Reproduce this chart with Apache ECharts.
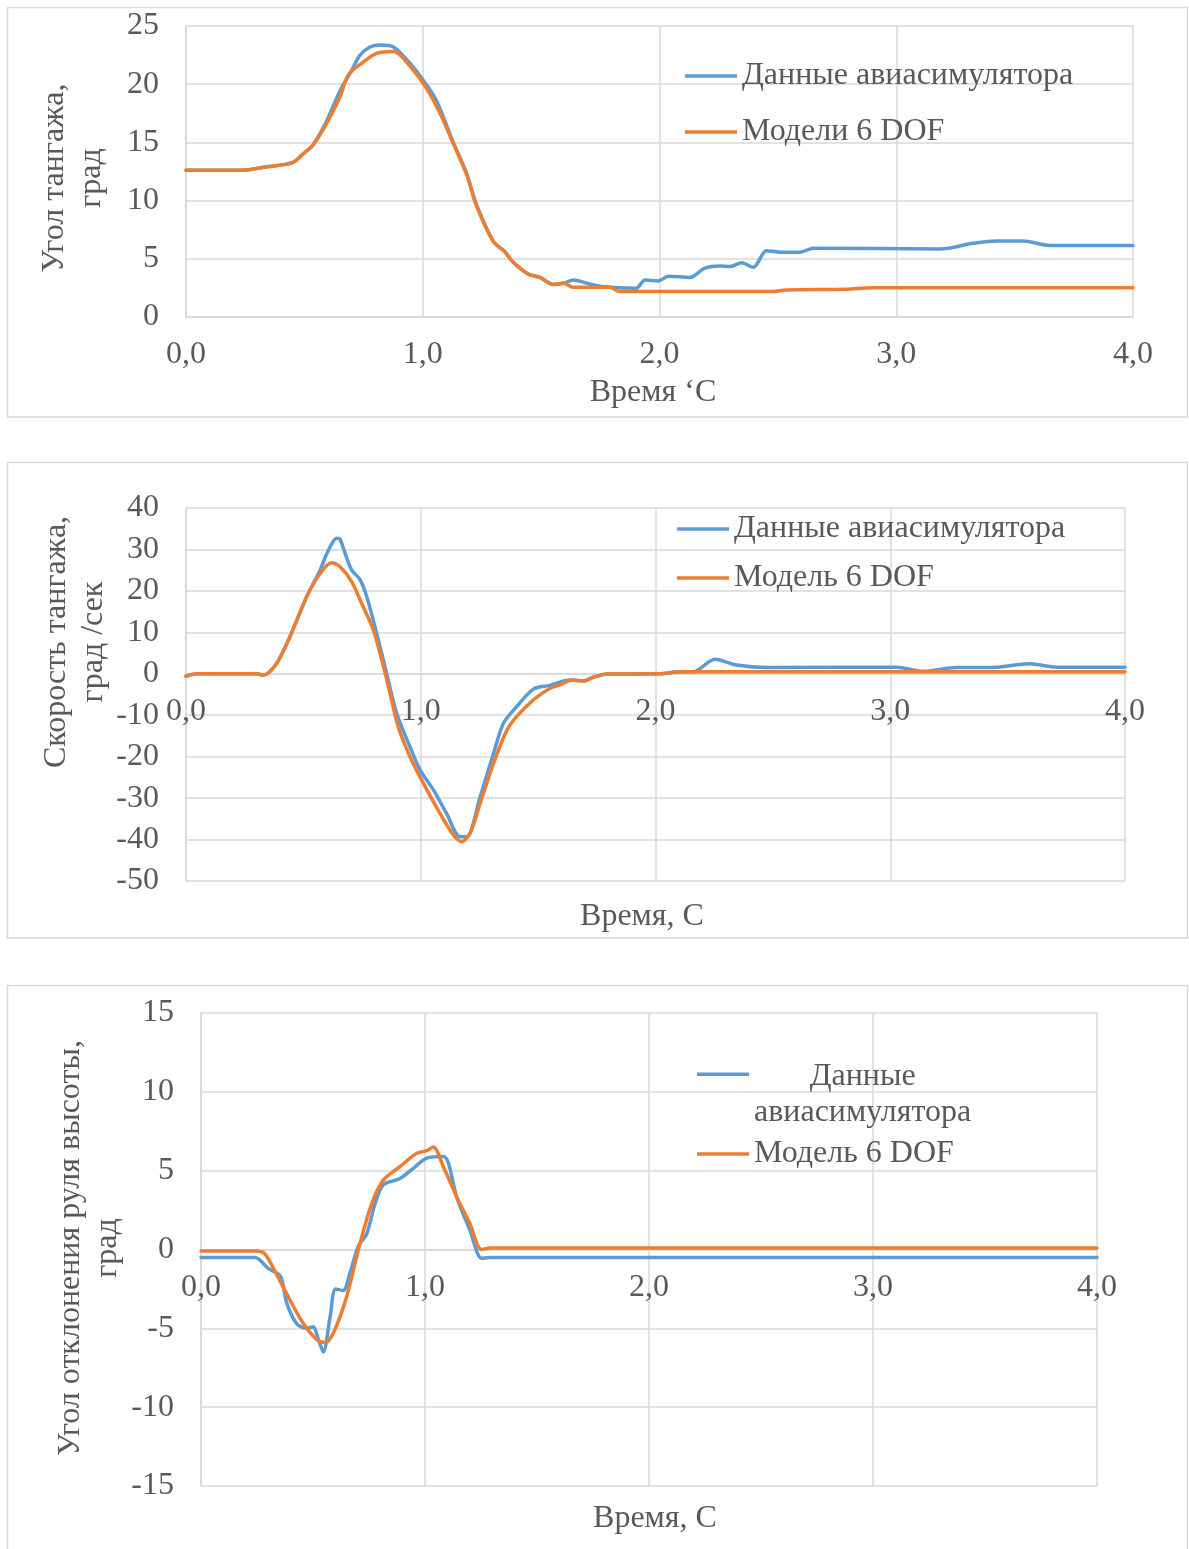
<!DOCTYPE html>
<html>
<head>
<meta charset="utf-8">
<script src="https://cdn.jsdelivr.net/npm/echarts@6/dist/echarts.min.js"></script>
<style>
html,body{margin:0;padding:0;background:#fff;}
#c{width:1189px;height:1549px;}
</style>
</head>
<body>
<div id="c"></div>
<script>
// ---- Data (time in s, value) ----
const xTicks = [0, 1, 2, 3, 4];

const seriesNames = ['Данные авиасимулятора', 'Модели 6 DOF', 'Модель 6 DOF'];

const pitchSim = [
[0,12.6],[0.235,12.6],[0.34,12.9],[0.45,13.26],[0.494,14.0],[0.537,14.8],[0.593,16.8],[0.65,19.4],[0.70,21.2],[0.735,22.5],[0.777,23.2],[0.82,23.37],[0.876,23.2],[0.946,21.8],[1.017,19.9],[1.06,18.5],[1.129,15.0],[1.186,12.3],[1.228,9.6],[1.298,6.5],[1.347,5.6],[1.38,4.75],[1.445,3.7],[1.495,3.4],[1.55,2.8],[1.594,2.9],[1.636,3.18],[1.72,2.75],[1.79,2.55],[1.9,2.46],[1.94,3.18],[1.995,3.1],[2.037,3.5],[2.129,3.4],[2.19,4.18],[2.256,4.38],[2.298,4.33],[2.347,4.67],[2.396,4.27],[2.452,5.7],[2.509,5.57],[2.593,5.57],[2.65,5.9],[3.185,5.85],[3.325,6.33],[3.424,6.53],[3.536,6.53],[3.649,6.15],[4.0,6.15]
];
const pitchModel = [
[0,12.6],[0.235,12.6],[0.34,12.9],[0.45,13.26],[0.494,14.0],[0.537,14.8],[0.593,16.6],[0.65,18.9],[0.686,20.8],[0.749,21.9],[0.805,22.65],[0.876,22.8],[0.96,21.2],[1.017,19.6],[1.073,17.5],[1.129,14.9],[1.186,12.2],[1.228,9.5],[1.298,6.5],[1.347,5.6],[1.38,4.75],[1.445,3.7],[1.495,3.4],[1.55,2.8],[1.594,2.9],[1.636,2.55],[1.79,2.55],[1.833,2.18],[2.48,2.18],[2.533,2.32],[2.787,2.38],[2.9,2.52],[4.0,2.52]
];

const rateSim = [
[0,-0.6],[0.045,0],[0.3,0],[0.329,-0.3],[0.386,2.5],[0.443,9],[0.514,18.6],[0.571,25],[0.6,29],[0.642,32.7],[0.656,32.5],[0.678,29],[0.706,25],[0.741,22.8],[0.77,18.6],[0.812,9.8],[0.855,0],[0.897,-9.5],[0.954,-17.6],[0.997,-23.2],[1.054,-28],[1.11,-33.7],[1.167,-39.3],[1.196,-39.3],[1.253,-29.7],[1.31,-19.2],[1.352,-12],[1.409,-7.9],[1.48,-3.7],[1.551,-2.8],[1.636,-1.5],[1.693,-1.7],[1.735,-0.85],[1.792,-0.05],[2.019,0],[2.104,0.5],[2.161,0.5],[2.253,3.5],[2.346,2.1],[2.473,1.5],[3.027,1.6],[3.14,0.6],[3.282,1.5],[3.425,1.5],[3.595,2.4],[3.709,1.6],[4.0,1.6]
];
const rateModel = [
[0,-0.6],[0.045,0],[0.3,0],[0.329,-0.3],[0.386,2.5],[0.443,9],[0.514,18.6],[0.571,24.2],[0.62,26.8],[0.656,25.8],[0.706,22.2],[0.748,17],[0.798,10.6],[0.834,3.3],[0.869,-4.7],[0.904,-12.8],[0.954,-20],[1.011,-26.4],[1.082,-33.7],[1.139,-38.9],[1.175,-40.5],[1.21,-38.5],[1.253,-31.3],[1.31,-21.6],[1.367,-13.6],[1.409,-10.3],[1.48,-6.3],[1.551,-3.5],[1.593,-2.7],[1.643,-1.5],[1.693,-1.7],[1.735,-0.85],[1.792,-0.05],[2.019,0],[2.104,0.5],[4.0,0.5]
];

const elevSim = [
[0,-0.5],[0.241,-0.5],[0.3,-1.2],[0.355,-1.7],[0.383,-3.4],[0.427,-4.7],[0.472,-5.0],[0.501,-4.9],[0.524,-5.7],[0.546,-6.5],[0.576,-4.3],[0.601,-2.5],[0.635,-2.6],[0.665,-1.5],[0.702,0.2],[0.74,1.0],[0.777,2.9],[0.814,4.1],[0.888,4.5],[0.948,5.15],[1.008,5.8],[1.082,5.9],[1.104,5.5],[1.141,3.35],[1.2,1.24],[1.253,-0.56],[1.29,-0.5],[4.0,-0.5]
];
const elevModel = [
[0,-0.1],[0.248,-0.1],[0.286,-0.3],[0.338,-1.6],[0.397,-3.2],[0.457,-4.7],[0.516,-5.7],[0.554,-5.9],[0.591,-5.3],[0.65,-3.0],[0.71,0.4],[0.762,2.9],[0.814,4.4],[0.888,5.25],[0.963,6.1],[1.008,6.27],[1.037,6.5],[1.082,5.25],[1.141,3.35],[1.2,1.66],[1.253,0],[1.29,0.1],[4.0,0.1]
];

// ---- Styling ----
const FONT = 'Liberation Serif';
const TXT = '#595959';
const GRID = '#d9d9d9';
const BLUE = '#5B9BD5';
const ORANGE = '#ED7D31';
const FS = 32;

const grids = [
  { left: 186, top: 26, width: 947, height: 291 },
  { left: 186, top: 508, width: 939, height: 373 },
  { left: 201, top: 1013, width: 896, height: 473 }
];
const yRanges = [[0, 25, 5], [-50, 40, 10], [-15, 15, 5]];

function xAxisCfg(gi) {
  const r = yRanges[gi];
  // place the category axis where value 0 lies (Excel "axis crosses at 0")
  const off = -((0 - r[0]) / (r[1] - r[0])) * grids[gi].height;
  return {
    type: 'value', gridIndex: gi, min: xTicks[0], max: xTicks[xTicks.length - 1], interval: 1,
    position: 'bottom', offset: off,
    axisLine: { show: true, onZero: false, lineStyle: { color: GRID, width: 1.5 } },
    axisTick: { show: false },
    splitLine: { show: true, lineStyle: { color: GRID, width: 1.5 } },
    axisLabel: { color: TXT, fontFamily: FONT, fontSize: FS, lineHeight: 30, margin: 23,
      formatter: v => v.toFixed(1).replace('.', ',') }
  };
}
function yAxisCfg(gi) {
  const r = yRanges[gi];
  return {
    type: 'value', gridIndex: gi, min: r[0], max: r[1], interval: r[2],
    axisLine: { show: true, onZero: false, lineStyle: { color: GRID, width: 1.5 } },
    axisTick: { show: false },
    splitLine: { show: true, lineStyle: { color: GRID, width: 1.5 } },
    axisLabel: { color: TXT, fontFamily: FONT, fontSize: FS, margin: 27 }
  };
}
function lineSeries(name, data, color, gi) {
  return {
    type: 'line', name: name, data: data, xAxisIndex: gi, yAxisIndex: gi,
    smooth: 0.3, symbol: 'none', showSymbol: false,
    lineStyle: { color: color, width: 3.5, cap: 'round', join: 'round' },
    itemStyle: { color: color },
    z: color === ORANGE ? 3 : 2
  };
}
const legendText = { color: TXT, fontFamily: FONT, fontSize: FS, lineHeight: 30 };

function title(x, y, text, rot) {
  return { type: 'text', x: x, y: y, rotation: rot ? Math.PI / 2 : 0,
    style: { text: text, fill: TXT, fontFamily: FONT, fontSize: FS, lineHeight: 37,
      align: 'center', verticalAlign: 'middle' } };
}
function box(x, y, w, h) {
  return { type: 'rect', shape: { x: x, y: y, width: w, height: h },
    style: { fill: 'none', stroke: GRID, lineWidth: 1.5 }, silent: true };
}

const option = {
  animation: false,
  backgroundColor: '#fff',
  grid: grids.map(g => Object.assign({ outerBoundsMode: 'none' }, g)),
  xAxis: [xAxisCfg(0), xAxisCfg(1), xAxisCfg(2)],
  yAxis: [yAxisCfg(0), yAxisCfg(1), yAxisCfg(2)],
  legend: [
    { left: 685, top: 60, padding: 0, orient: 'vertical', icon: 'rect', itemWidth: 52, itemHeight: 3.5,
      itemGap: 24, itemTextGap: 5, textStyle: legendText, itemStyle: { borderWidth: 0 },
      data: [seriesNames[0], seriesNames[1]] },
    { left: 677, top: 513, padding: 0, orient: 'vertical', icon: 'rect', itemWidth: 52, itemHeight: 3.5,
      itemGap: 17, itemTextGap: 6, textStyle: legendText, itemStyle: { borderWidth: 0 },
      data: [seriesNames[0], seriesNames[2]] },
    { left: 697, top: 1061, padding: 0, orient: 'vertical',
      icon: 'path://M0,0h52v3.5h-52z M0,44.999h52v0.001h-52z', itemWidth: 52, itemHeight: 45,
      itemTextGap: 4, itemStyle: { borderWidth: 0 },
      formatter: () => '{c|Данные}\n{n|авиасимулятора}',
      textStyle: { color: TXT, fontFamily: FONT, fontSize: FS,
        rich: { c: { align: 'center', color: TXT, fontFamily: FONT, fontSize: FS, lineHeight: 36 },
                n: { color: TXT, fontFamily: FONT, fontSize: FS, lineHeight: 36 } } },
      data: [seriesNames[0]] },
    { left: 697, top: 1138, padding: 0, orient: 'vertical', icon: 'rect', itemWidth: 52, itemHeight: 3.5,
      itemTextGap: 4, textStyle: legendText, itemStyle: { borderWidth: 0 },
      data: [seriesNames[2]] }
  ],
  series: [
    lineSeries(seriesNames[0], pitchSim, BLUE, 0),
    lineSeries(seriesNames[1], pitchModel, ORANGE, 0),
    lineSeries(seriesNames[0], rateSim, BLUE, 1),
    lineSeries(seriesNames[2], rateModel, ORANGE, 1),
    lineSeries(seriesNames[0], elevSim, BLUE, 2),
    lineSeries(seriesNames[2], elevModel, ORANGE, 2)
  ],
  graphic: [
    box(7.5, 7.5, 1180, 409.5),
    box(7.5, 462.5, 1180, 475.5),
    box(7.5, 985.5, 1180, 580),
    title(73, 178, 'Угол тангажа,\nград', true),
    title(653, 393, 'Время ‘С', false),
    title(75, 642, 'Скорость тангажа,\nград /сек', true),
    title(642, 917, 'Время, С', false),
    title(89, 1248, 'Угол отклонения руля высоты,\nград', true),
    title(655, 1519, 'Время, С', false)
  ]
};

const chart = echarts.init(document.getElementById('c'), null, { renderer: 'canvas' });
chart.setOption(option);
</script>
</body>
</html>
